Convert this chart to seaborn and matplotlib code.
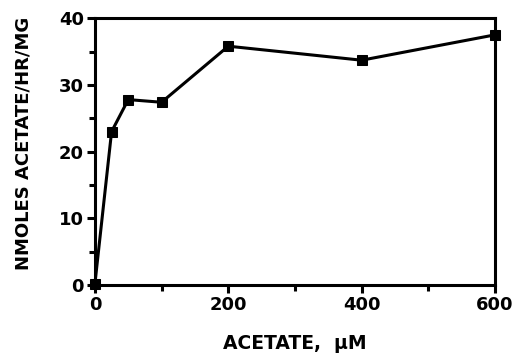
import matplotlib
matplotlib.use("Agg")
import matplotlib.pyplot as plt
import seaborn as sns
import pandas as pd
from matplotlib.ticker import MultipleLocator

# Acetate uptake versus acetate concentration
acetate_um = [0, 25, 50, 100, 200, 400, 600]
nmoles_rate = [0.2, 23.0, 27.8, 27.4, 35.8, 33.7, 37.5]

df = pd.DataFrame({"acetate": acetate_um, "rate": nmoles_rate})

sns.set_theme(style="white")
plt.rcParams["font.family"] = ["DejaVu Sans"]
plt.rcParams["font.weight"] = "bold"
plt.rcParams["text.color"] = "black"
plt.rcParams["axes.labelcolor"] = "black"
plt.rcParams["xtick.color"] = "black"
plt.rcParams["ytick.color"] = "black"

fig = plt.figure(figsize=(5.13, 3.56), dpi=100)
ax = fig.add_axes([0.185, 0.199, 0.78, 0.750])

sns.lineplot(data=df, x="acetate", y="rate", ax=ax, color="black",
             linewidth=2.2, marker="s", markersize=7.5, markeredgecolor="black",
             markerfacecolor="black", clip_on=False)

ax.set_xlim(0, 600)
ax.set_ylim(0, 40)
ax.xaxis.set_major_locator(MultipleLocator(200))
ax.xaxis.set_minor_locator(MultipleLocator(100))
ax.yaxis.set_major_locator(MultipleLocator(10))
ax.yaxis.set_minor_locator(MultipleLocator(5))

for s in ax.spines.values():
    s.set_visible(True)
    s.set_color("black")
    s.set_linewidth(2.2)

ax.tick_params(axis="both", which="both", direction="out", color="black",
               labelcolor="black", width=2.2,
               bottom=True, left=True, top=False, right=False)
ax.tick_params(axis="both", which="major", length=6, labelsize=13, pad=2)
ax.tick_params(axis="both", which="minor", length=4)
for lab in ax.get_xticklabels() + ax.get_yticklabels():
    lab.set_fontweight("bold")

ax.set_xlabel("ACETATE,  \u03bcM", fontsize=13.5, fontweight="bold",
              color="black", labelpad=14)
ax.set_ylabel("NMOLES ACETATE/HR/MG", fontsize=13, fontweight="bold",
              color="black")
ax.yaxis.set_label_coords(-0.155, 0.53)

fig.savefig("out.png", dpi=100, facecolor="white")
